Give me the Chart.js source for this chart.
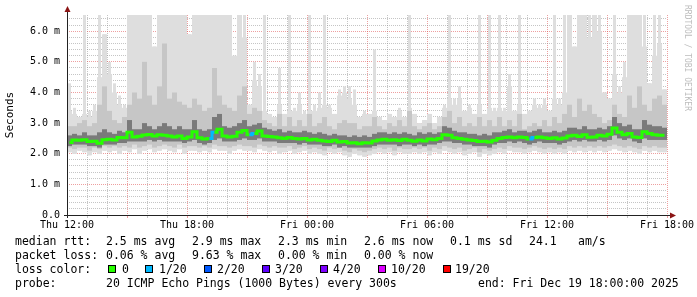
<!DOCTYPE html>
<html>
<head>
<meta charset="utf-8">
<script src="https://cdn.jsdelivr.net/npm/chart.js@4.4.1/dist/chart.umd.min.js"></script>
<style>
  body { margin: 0; background: #fff; }
  #wrap { position: relative; width: 697px; height: 297px; overflow: hidden; background: #fff; }
  #graph { position: absolute; left: 0; top: 0; }
  .leg { position: absolute; font-family: 'DejaVu Sans Mono', monospace; font-size: 11.5px; line-height: 14px; white-space: pre; color: #000; }
  .box { position: absolute; width: 6px; height: 6px; border: 1px solid #000; }
  #stamp { position: absolute; left: 682px; top: 5px; writing-mode: vertical-rl; font-family: 'DejaVu Sans Mono', monospace; font-size: 8px; line-height: 10px; color: #bdbdbd; }
</style>
</head>
<body>
<div id="wrap">
  <canvas id="graph" width="697" height="297"></canvas>
  <div id="stamp">RRDTOOL / TOBI OETIKER</div>
  <div id="legend"></div>
</div>
<script>
// x axis: Thu 12:00 -> Fri 18:00 (30 hours), one bucket every 15 minutes
const xTickLabels = ['Thu 12:00', 'Thu 18:00', 'Fri 00:00', 'Fri 06:00', 'Fri 12:00', 'Fri 18:00'];
const hoursShown = 30;
const bucketHours = 0.25;

// median rtt (ms), 120 buckets, 20 per row = 5 hours per row
const med = [
  2.37, 2.45, 2.44, 2.46, 2.40, 2.41, 2.34, 2.46, 2.47, 2.45, 2.53, 2.52, 2.70, 2.55, 2.57, 2.61, 2.63, 2.58, 2.62, 2.60,
  2.58, 2.55, 2.58, 2.50, 2.55, 2.72, 2.52, 2.48, 2.50, 2.70, 2.80, 2.58, 2.55, 2.57, 2.70, 2.76, 2.62, 2.66, 2.74, 2.58,
  2.56, 2.55, 2.52, 2.50, 2.53, 2.50, 2.48, 2.50, 2.45, 2.47, 2.44, 2.42, 2.40, 2.44, 2.38, 2.40, 2.35, 2.36, 2.33, 2.36,
  2.35, 2.42, 2.45, 2.47, 2.44, 2.46, 2.43, 2.47, 2.44, 2.41, 2.45, 2.42, 2.48, 2.46, 2.50, 2.62, 2.60, 2.52, 2.50, 2.47,
  2.45, 2.43, 2.40, 2.41, 2.38, 2.44, 2.50, 2.53, 2.55, 2.52, 2.55, 2.53, 2.48, 2.53, 2.55, 2.52, 2.50, 2.52, 2.48, 2.51,
  2.58, 2.60, 2.56, 2.62, 2.54, 2.55, 2.60, 2.58, 2.64, 2.84, 2.70, 2.62, 2.66, 2.55, 2.53, 2.72, 2.66, 2.62, 2.60, 2.60
];

// lost pings out of 20 per bucket
const lost = [
  0, 0, 0, 0, 0, 0, 0, 0, 0, 0, 0, 0, 0, 0, 0, 0, 0, 0, 0, 0,
  0, 0, 0, 0, 0, 0, 0, 0, 1, 0, 0, 0, 0, 0, 0, 0, 1, 0, 0, 0,
  0, 0, 0, 0, 0, 0, 0, 0, 0, 0, 0, 0, 0, 0, 0, 0, 0, 0, 0, 0,
  0, 0, 0, 0, 0, 0, 0, 0, 0, 0, 0, 0, 0, 0, 0, 0, 0, 0, 0, 0,
  0, 0, 0, 0, 0, 0, 0, 0, 0, 0, 0, 0, 1, 0, 0, 0, 0, 0, 0, 0,
  0, 0, 0, 0, 0, 0, 0, 0, 0, 0, 0, 0, 0, 0, 0, 0, 0, 0, 0, 0
];

// smoke: slowest ping per bucket (thin spikes)
const smokeMax = [
  4.3, 3.5, 3.2, 6.6, 3.4, 3.6, 6.6, 5.9, 5.0, 4.3, 3.9, 3.6, 6.6, 6.6, 6.6, 6.6, 6.6, 5.5, 6.6, 6.6,
  6.6, 6.6, 6.6, 6.6, 5.9, 6.6, 6.6, 6.6, 6.6, 6.6, 6.6, 6.6, 6.6, 5.2, 6.6, 6.6, 3.6, 5.0, 4.6, 6.6,
  3.3, 3.2, 4.8, 3.3, 6.6, 3.5, 4.0, 3.4, 6.6, 3.6, 4.0, 6.6, 3.6, 3.3, 4.1, 4.2, 4.2, 4.1, 3.2, 3.4,
  3.3, 5.4, 3.2, 3.1, 3.3, 3.2, 3.5, 3.2, 6.6, 3.3, 3.0, 3.1, 3.3, 3.0, 3.2, 3.6, 6.6, 3.8, 4.2, 3.4,
  3.6, 3.3, 6.6, 3.3, 6.6, 3.5, 6.6, 3.5, 4.6, 3.4, 6.6, 3.3, 3.4, 3.8, 3.6, 3.8, 3.4, 6.6, 3.8, 6.6,
  6.6, 5.5, 6.6, 6.6, 6.6, 6.6, 6.6, 4.0, 3.8, 6.6, 4.2, 5.0, 6.6, 6.6, 6.6, 6.6, 4.3, 6.6, 6.6, 4.1
];
// smoke: light band top
const smokeFill = [
  3.4, 3.3, 3.2, 3.3, 3.2, 3.4, 4.5, 5.9, 4.6, 4.0, 3.6, 3.5, 6.6, 6.6, 6.6, 6.6, 6.6, 5.5, 6.6, 6.6,
  6.6, 6.6, 6.6, 6.6, 5.9, 6.6, 6.6, 6.6, 6.6, 6.6, 6.6, 6.6, 6.6, 5.2, 6.6, 5.8, 3.6, 4.4, 4.2, 3.4,
  3.3, 3.2, 3.6, 3.3, 3.4, 3.4, 3.6, 3.3, 3.4, 3.4, 3.5, 3.6, 3.5, 3.3, 3.9, 4.0, 3.8, 3.6, 3.2, 3.3,
  3.3, 3.4, 3.2, 3.1, 3.3, 3.2, 3.4, 3.2, 3.5, 3.3, 3.0, 3.1, 3.3, 3.0, 3.2, 3.5, 3.8, 3.6, 3.8, 3.4,
  3.5, 3.3, 3.6, 3.3, 3.5, 3.4, 3.5, 3.4, 4.2, 3.4, 3.6, 3.3, 3.4, 3.6, 3.5, 3.6, 3.4, 3.8, 3.6, 4.0,
  6.6, 5.5, 6.6, 6.6, 5.8, 6.6, 6.0, 4.0, 3.8, 4.6, 4.0, 4.5, 6.6, 6.6, 6.6, 5.5, 4.3, 5.2, 5.6, 4.1
];
// smoke: fastest ping per bucket
const smokeMin = [
  2.05, 2.00, 2.10, 2.05, 1.95, 2.05, 2.00, 2.10, 2.05, 2.10, 2.00, 2.10, 2.05, 2.15, 2.00, 2.10, 2.15, 2.05, 2.10, 2.15,
  2.10, 2.05, 2.15, 2.00, 2.10, 2.10, 2.05, 2.10, 2.05, 2.15, 2.10, 2.10, 2.00, 2.10, 2.15, 2.10, 2.10, 2.05, 2.15, 2.10,
  2.05, 2.10, 2.00, 2.05, 2.10, 2.00, 2.05, 2.10, 2.00, 2.05, 2.00, 1.95, 2.05, 2.00, 2.05, 1.95, 1.90, 2.00, 1.95, 1.90,
  1.95, 2.00, 2.05, 2.00, 2.05, 1.95, 2.05, 2.00, 2.00, 2.05, 2.00, 2.05, 1.95, 2.05, 2.00, 2.10, 2.05, 2.00, 2.05, 1.95,
  2.00, 2.05, 1.90, 2.00, 1.95, 2.00, 2.05, 2.00, 2.10, 2.05, 2.05, 2.00, 2.05, 2.10, 2.05, 2.00, 2.05, 2.00, 2.05, 2.00,
  2.10, 2.05, 2.10, 2.05, 2.10, 2.05, 2.10, 2.05, 2.10, 2.15, 2.10, 2.05, 2.10, 2.05, 2.00, 2.10, 2.05, 2.10, 2.05, 2.05
];
// smoke: middle band (grey)
const smokeMidLo = [
  2.20, 2.15, 2.20, 2.20, 2.10, 2.20, 2.15, 2.25, 2.20, 2.25, 2.20, 2.25, 2.20, 2.30, 2.20, 2.25, 2.30, 2.20, 2.25, 2.30,
  2.25, 2.20, 2.30, 2.20, 2.25, 2.25, 2.20, 2.25, 2.20, 2.30, 2.25, 2.25, 2.20, 2.25, 2.30, 2.25, 2.25, 2.20, 2.30, 2.25,
  2.20, 2.25, 2.20, 2.20, 2.25, 2.15, 2.20, 2.25, 2.15, 2.20, 2.15, 2.10, 2.20, 2.15, 2.20, 2.10, 2.05, 2.15, 2.10, 2.05,
  2.10, 2.15, 2.20, 2.15, 2.20, 2.10, 2.20, 2.15, 2.15, 2.20, 2.15, 2.20, 2.10, 2.20, 2.15, 2.25, 2.20, 2.15, 2.20, 2.10,
  2.15, 2.20, 2.05, 2.15, 2.10, 2.15, 2.20, 2.15, 2.25, 2.20, 2.20, 2.15, 2.20, 2.25, 2.20, 2.15, 2.20, 2.15, 2.20, 2.15,
  2.25, 2.20, 2.25, 2.20, 2.25, 2.20, 2.25, 2.20, 2.25, 2.30, 2.25, 2.20, 2.25, 2.20, 2.15, 2.25, 2.20, 2.25, 2.20, 2.20
];
const smokeMidHi = [
  2.9, 2.9, 3.0, 3.1, 2.9, 3.0, 3.6, 4.2, 3.4, 3.1, 3.0, 3.2, 3.6, 4.0, 3.8, 5.0, 3.9, 3.6, 4.2, 5.6,
  3.8, 4.0, 3.7, 3.6, 3.5, 3.8, 3.6, 3.4, 3.5, 4.8, 3.9, 3.6, 3.5, 3.4, 3.9, 4.2, 3.3, 3.5, 3.4, 3.1,
  3.0, 2.9, 3.3, 2.9, 3.2, 2.9, 3.1, 2.9, 3.3, 2.9, 3.0, 3.2, 2.9, 2.8, 3.0, 3.1, 3.0, 3.0, 2.8, 2.9,
  2.9, 3.2, 2.9, 2.8, 3.0, 2.9, 3.1, 2.9, 3.4, 2.9, 2.8, 2.9, 3.0, 2.8, 2.9, 3.2, 3.4, 3.0, 3.2, 2.9,
  3.0, 2.9, 3.2, 2.9, 3.1, 2.9, 3.2, 2.9, 3.1, 2.9, 3.3, 2.8, 2.9, 3.0, 2.9, 3.1, 2.9, 3.2, 3.0, 3.3,
  3.6, 3.2, 3.8, 3.4, 3.6, 3.3, 3.2, 3.0, 3.1, 3.6, 3.3, 3.2, 3.9, 3.5, 4.2, 3.6, 3.4, 3.8, 3.9, 3.6
];
// smoke: dark core around the median
const smokeDarkLo = [
  2.25, 2.30, 2.30, 2.30, 2.25, 2.25, 2.20, 2.30, 2.30, 2.30, 2.35, 2.35, 2.40, 2.40, 2.40, 2.40, 2.45, 2.40, 2.45, 2.40,
  2.40, 2.40, 2.40, 2.35, 2.40, 2.45, 2.35, 2.30, 2.35, 2.45, 2.50, 2.40, 2.40, 2.40, 2.45, 2.50, 2.45, 2.45, 2.50, 2.40,
  2.40, 2.40, 2.35, 2.35, 2.35, 2.35, 2.30, 2.35, 2.30, 2.30, 2.30, 2.25, 2.25, 2.30, 2.20, 2.25, 2.20, 2.20, 2.20, 2.20,
  2.20, 2.25, 2.30, 2.30, 2.30, 2.30, 2.25, 2.30, 2.30, 2.25, 2.30, 2.25, 2.30, 2.30, 2.35, 2.40, 2.40, 2.35, 2.35, 2.30,
  2.30, 2.25, 2.25, 2.25, 2.20, 2.30, 2.35, 2.35, 2.40, 2.35, 2.40, 2.35, 2.30, 2.35, 2.40, 2.35, 2.35, 2.35, 2.30, 2.35,
  2.40, 2.45, 2.40, 2.45, 2.40, 2.40, 2.45, 2.40, 2.45, 2.60, 2.50, 2.45, 2.50, 2.40, 2.35, 2.50, 2.45, 2.45, 2.45, 2.45
];
const smokeDarkHi = [
  2.60, 2.65, 2.60, 2.70, 2.60, 2.60, 2.70, 2.80, 2.70, 2.65, 2.75, 2.70, 3.10, 2.80, 2.80, 3.00, 2.90, 2.80, 2.90, 3.00,
  2.90, 2.80, 2.90, 2.80, 2.80, 3.10, 2.80, 2.75, 2.80, 3.20, 3.30, 2.90, 2.85, 2.90, 3.00, 3.10, 2.90, 2.95, 3.00, 2.85,
  2.80, 2.75, 2.80, 2.70, 2.75, 2.70, 2.70, 2.75, 2.70, 2.65, 2.70, 2.65, 2.60, 2.65, 2.60, 2.60, 2.55, 2.60, 2.55, 2.60,
  2.55, 2.65, 2.70, 2.70, 2.65, 2.70, 2.65, 2.70, 2.65, 2.60, 2.70, 2.65, 2.70, 2.65, 2.70, 2.90, 2.85, 2.75, 2.70, 2.70,
  2.65, 2.65, 2.60, 2.65, 2.60, 2.70, 2.70, 2.75, 2.80, 2.70, 2.75, 2.75, 2.70, 2.75, 2.80, 2.70, 2.70, 2.75, 2.70, 2.75,
  2.85, 2.85, 2.80, 2.90, 2.80, 2.80, 2.85, 2.80, 2.90, 3.20, 3.00, 2.90, 2.95, 2.80, 2.80, 3.10, 2.95, 2.90, 2.90, 2.85
];

// loss colour legend
const lossSteps = [0, 1, 2, 3, 4, 10, 19];
const lossLabels = ['0', '1/20', '2/20', '3/20', '4/20', '10/20', '19/20'];
const lossColors = ['#26ff00', '#00b8ff', '#0059ff', '#5e00ff', '#7e00ff', '#dd00ff', '#ff0000'];

const statRows = [
  ['median rtt:', '2.5 ms avg', '2.9 ms max', '2.3 ms min', '2.6 ms now', '0.1 ms sd', '24.1', 'am/s'],
  ['packet loss:', '0.06 % avg', '9.63 % max', '0.00 % min', '0.00 % now']
];
const probeRow = ['probe:', '20 ICMP Echo Pings (1000 Bytes) every 300s', 'end: Fri Dec 19 18:00:00 2025'];

const GRID = 'rgba(140,140,140,0.5)';
const MGRID = 'rgba(222,80,80,0.55)';

function colorForLoss(n) {
    let c = lossColors[0];
    lossSteps.forEach((s, k) => { if (n >= s) c = lossColors[k]; });
    return c;
}

const times = med.map((_, i) => i * bucketHours + bucketHours / 2);
const band = (lo, hi) => times.map((x, i) => ({ x: x, y: [lo[i], hi[i]] }));

const barStyle = {
    type: 'bar',
    grouped: false,
    barPercentage: 1,
    categoryPercentage: 1,
    borderWidth: 0,
    inflateAmount: 0
};

// axis lines with the little rrdtool arrows
const axisArrows = {
    id: 'axisArrows',
    afterDraw(chart) {
        const { ctx, chartArea: a } = chart;
        ctx.save();
        ctx.strokeStyle = '#222';
        ctx.lineWidth = 1;
        ctx.beginPath();
        ctx.moveTo(a.left - 3, a.bottom + 0.5);
        ctx.lineTo(a.right + 4, a.bottom + 0.5);
        ctx.moveTo(a.left + 0.5, a.bottom + 3);
        ctx.lineTo(a.left + 0.5, a.top - 4);
        ctx.stroke();
        ctx.fillStyle = '#8b1414';
        ctx.beginPath();
        ctx.moveTo(a.right + 9, a.bottom + 0.5);
        ctx.lineTo(a.right + 3, a.bottom - 2.5);
        ctx.lineTo(a.right + 3, a.bottom + 3.5);
        ctx.fill();
        ctx.beginPath();
        ctx.moveTo(a.left + 0.5, a.top - 9);
        ctx.lineTo(a.left - 2.5, a.top - 3);
        ctx.lineTo(a.left + 3.5, a.top - 3);
        ctx.fill();
        ctx.restore();
    }
};

Chart.defaults.font.family = "'DejaVu Sans Mono', monospace";
Chart.defaults.color = '#000';

const isWhole = v => Math.abs(v - Math.round(v)) < 1e-6;

new Chart(document.getElementById('graph').getContext('2d'), {
    type: 'bar',
    data: {
        datasets: [
            {
                type: 'line',
                data: times.map((x, i) => ({ x: x, y: med[i] })),
                stepped: 'middle',
                borderWidth: 3,
                borderColor: lossColors[0],
                borderCapStyle: 'butt',
                pointRadius: 0,
                segment: { borderColor: c => colorForLoss(lost[c.p0DataIndex]) },
                order: 0
            },
            Object.assign({ data: band(smokeDarkLo, smokeDarkHi), backgroundColor: '#7a7a7a', order: 1 }, barStyle),
            Object.assign({ data: band(smokeMidLo, smokeMidHi), backgroundColor: '#c6c6c6', order: 2 }, barStyle),
            Object.assign({ data: band(smokeMin, smokeFill), backgroundColor: '#dedede', order: 3 }, barStyle),
            Object.assign({ data: band(smokeMin, smokeMax), backgroundColor: '#dedede', order: 4 }, barStyle, { barPercentage: 0.6 })
        ]
    },
    options: {
        responsive: false,
        animation: false,
        events: [],
        layout: { padding: { left: 0, right: 30, top: 15, bottom: 62 } },
        plugins: { legend: { display: false }, tooltip: { enabled: false } },
        scales: {
            x: {
                type: 'linear',
                min: 0,
                max: hoursShown,
                offset: false,
                z: 1,
                afterFit: s => { s.height = 20; },
                ticks: {
                    stepSize: 1,
                    autoSkip: false,
                    maxRotation: 0,
                    minRotation: 0,
                    padding: 1,
                    font: { size: 10 },
                    callback: v => (v % 6 === 0 ? xTickLabels[v / 6] : '')
                },
                grid: {
                    offset: false,
                    color: c => (c.tick && c.tick.value % 3 === 0 ? MGRID : GRID),
                    tickColor: c => (c.tick && c.tick.value % 3 === 0 ? MGRID : GRID),
                    tickLength: 3,
                    lineWidth: 1
                },
                border: { display: false, dash: [1, 1] }
            },
            y: {
                type: 'linear',
                min: 0,
                max: 6.53,
                z: 1,
                afterFit: s => { s.width = 67; },
                ticks: {
                    stepSize: 0.2,
                    includeBounds: false,
                    autoSkip: false,
                    padding: 7,
                    font: { size: 10 },
                    callback: v => (v === 0 ? '0.0' : (isWhole(v) ? v.toFixed(1) + ' m' : ''))
                },
                grid: {
                    color: c => (c.tick && isWhole(c.tick.value) ? MGRID : GRID),
                    drawTicks: false,
                    lineWidth: 1
                },
                border: { display: false, dash: [1, 1] },
                title: {
                    display: true,
                    text: 'Seconds',
                    font: { size: 11 },
                    padding: { top: 4, bottom: 0 }
                }
            }
        }
    },
    plugins: [axisArrows]
});

// text legend under the graph
const legend = document.getElementById('legend');
function addText(x, y, text) {
    const d = document.createElement('div');
    d.className = 'leg';
    d.style.left = x + 'px';
    d.style.top = y + 'px';
    d.textContent = text;
    legend.appendChild(d);
}
const statX = [15, 106, 192, 278, 364, 450, 529, 578];
statRows.forEach((row, r) => {
    row.forEach((t, k) => addText(statX[k], 234 + r * 14, t));
});
addText(15, 262, 'loss color:');
const boxX = [108, 145, 204, 262, 320, 378, 443];
const boxLabelX = [123, 160, 218, 276, 334, 392, 456];
lossLabels.forEach((lab, k) => {
    const b = document.createElement('div');
    b.className = 'box';
    b.style.left = boxX[k] + 'px';
    b.style.top = '265px';
    b.style.background = lossColors[k];
    legend.appendChild(b);
    addText(boxLabelX[k] - 1, 262, lab);
});
const probeX = [15, 106, 478];
probeRow.forEach((t, k) => addText(probeX[k], 276, t));
</script>
</body>
</html>
